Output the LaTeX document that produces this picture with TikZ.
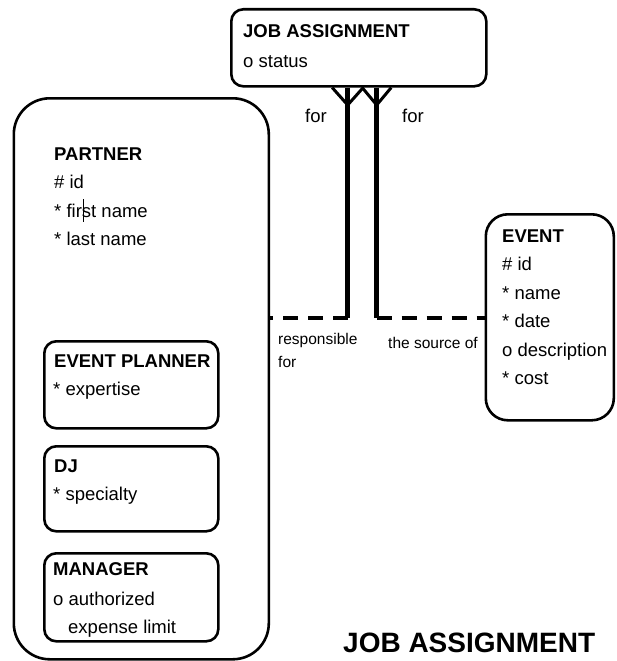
\documentclass[tikz,border=0pt]{standalone}
\usepackage{fontspec}
\setmainfont{Liberation Sans}
\begin{document}
\begin{tikzpicture}[x=1pt,y=-1pt,
  box/.style={draw=black,line width=2.6pt,inner sep=0pt,anchor=north west},
  txt/.style={inner sep=0pt,anchor=base west,font=\fontsize{18.5}{22}\selectfont},
  btxt/.style={txt,font=\fontsize{18.5}{22}\selectfont\bfseries},
  lbl/.style={inner sep=0pt,anchor=base west,font=\fontsize{15.5}{18}\selectfont},
  conn/.style={line width=4.5pt},
  dconn/.style={line width=4pt,dash pattern=on 15pt off 10pt},
  foot/.style={line width=3pt}]
\useasboundingbox (0,0) rectangle (616,661);
% boxes
\node[box,rounded corners=12pt,minimum width=255pt,minimum height=77pt] (ja) at (230,8) {};
\node[box,rounded corners=36pt,minimum width=255pt,minimum height=561pt] (partner) at (12.5,97) {};
\node[box,rounded corners=12pt,minimum width=174pt,minimum height=87pt] (ep) at (43,340) {};
\node[box,rounded corners=12pt,minimum width=174pt,minimum height=85pt] (dj) at (43,445) {};
\node[box,rounded corners=12pt,minimum width=174pt,minimum height=88pt] (mgr) at (43,552) {};
\node[box,rounded corners=22pt,minimum width=128pt,minimum height=206pt] (event) at (484.5,213) {};
% texts
\node[btxt] (jat) at (243,38) {JOB ASSIGNMENT};
\node[txt] (jas) at (243,67) {o status};
\node[btxt] (pt) at (54,160) {PARTNER};
\node[txt] (p1) at (54,188) {\# id};
\node[txt] (p2) at (54,217) {* first name};
\node[txt] (p3) at (54,245) {* last name};
\draw[line width=0.8pt] (83,199) -- (83,222);
\node[btxt] (ept) at (54,367) {EVENT PLANNER};
\node[txt] (ep1) at (53,395) {* expertise};
\node[btxt] (djt) at (54,472) {DJ};
\node[txt] (dj1) at (53,500) {* specialty};
\node[btxt] (mt) at (53,575) {MANAGER};
\node[txt] (m1) at (53,605) {o authorized};
\node[txt] (m2) at (68,633) {expense limit};
\node[btxt] (et) at (502,242) {EVENT};
\node[txt] (e1) at (502,270.5) {\# id};
\node[txt] (e2) at (502,299) {* name};
\node[txt] (e3) at (502,327.5) {* date};
\node[txt] (e4) at (502,356) {o description};
\node[txt] (e5) at (502,384.5) {* cost};
% labels
\node[txt] (f1) at (305,122) {for};
\node[txt] (f2) at (402,122) {for};
\node[lbl] (r1) at (278,344) {responsible};
\node[lbl] (r2) at (278,367) {for};
\node[lbl] (s1) at (388,348) {the source of};
\node[inner sep=0pt,anchor=base west,font=\fontsize{28}{32}\selectfont\bfseries] (title) at (343,652) {JOB ASSIGNMENT};
% connectors
\coordinate (cl) at (347.7,318);
\coordinate (cr) at (376.7,318);
\coordinate (al) at (347.7,105);
\coordinate (ar) at (376.7,105);
\draw[conn] (ja.south -| cl) -- (cl);
\draw[dconn] (cl) -- (partner.east |- cl);
\draw[conn] (ja.south -| cr) -- (cr);
\draw[dconn] (cr) -- (event.west |- cr);
\draw[foot] ([xshift=-15.5pt]ja.south -| al) -- (al) -- ([xshift=15.5pt]ja.south -| al);
\draw[foot] ([xshift=-14.5pt]ja.south -| ar) -- (ar) -- ([xshift=14.5pt]ja.south -| ar);
\end{tikzpicture}
\end{document}
